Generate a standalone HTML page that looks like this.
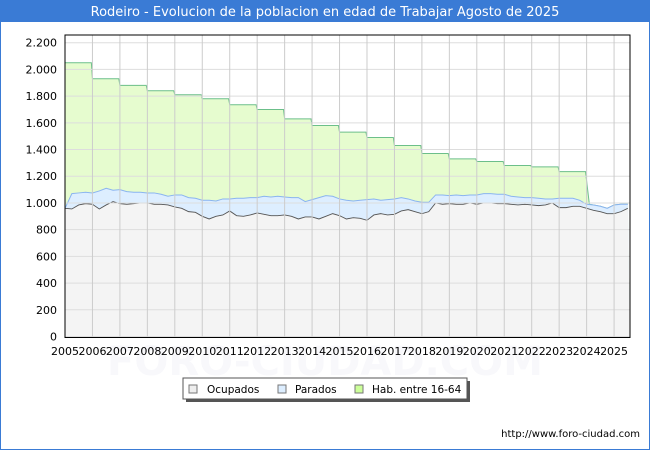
<!DOCTYPE html>
<html><head><meta charset="utf-8"><style>
body{margin:0;width:650px;height:450px;overflow:hidden;background:#fff;font-family:"DejaVu Sans","Liberation Sans",sans-serif}
</style></head><body>
<svg width="650" height="450" xmlns="http://www.w3.org/2000/svg">
<rect x="0.5" y="0.5" width="649" height="449" fill="#fff" stroke="#3a7bd5"/>
<rect x="0" y="0" width="650" height="22" fill="#3a7bd5"/>
<text x="325" y="16" text-anchor="middle" fill="#fff" font-size="13">Rodeiro - Evolucion de la poblacion en edad de Trabajar Agosto de 2025</text>
<text x="325" y="375" text-anchor="middle" fill="#f8f8fb" font-size="40" font-weight="bold">FORO-CIUDAD.COM</text>
<g id="plot"></g>
<g>
<rect x="186" y="381" width="284" height="21" fill="#555"/>
<rect x="183" y="378" width="284" height="21" fill="#fff" stroke="#555"/>
<rect x="189" y="385" width="8" height="8" fill="#eee" stroke="#777"/>
<text x="207" y="393" font-size="10.5">Ocupados</text>
<rect x="278" y="385" width="8" height="8" fill="#ddeeff" stroke="#777"/>
<text x="295" y="393" font-size="10.5">Parados</text>
<rect x="355" y="385" width="8" height="8" fill="#ccff99" stroke="#777"/>
<text x="372" y="393" font-size="10.5">Hab. entre 16-64</text>
</g>
<text x="640" y="437" text-anchor="end" font-size="10">http://www.foro-ciudad.com</text>
</svg>
<script>
const yearTicks=[2005,2006,2007,2008,2009,2010,2011,2012,2013,2014,2015,2016,2017,2018,2019,2020,2021,2022,2023,2024,2025];
const yTicks=[0,200,400,600,800,1000,1200,1400,1600,1800,2000,2200];
const habYears=[2005,2006,2007,2008,2009,2010,2011,2012,2013,2014,2015,2016,2017,2018,2019,2020,2021,2022,2023];
const habValues=[2050,1930,1880,1840,1810,1780,1735,1700,1630,1580,1530,1490,1430,1370,1330,1310,1280,1270,1235];
const parados=[960,1070,1075,1080,1075,1090,1110,1095,1100,1085,1080,1080,1075,1075,1065,1050,1060,1060,1040,1035,1020,1020,1015,1030,1030,1035,1035,1040,1040,1050,1045,1050,1045,1040,1040,1010,1025,1040,1055,1050,1030,1020,1015,1020,1025,1030,1020,1025,1030,1040,1030,1015,1005,1005,1060,1060,1055,1060,1055,1060,1060,1070,1070,1065,1065,1050,1045,1040,1040,1035,1030,1030,1035,1035,1035,1020,990,985,975,960,985,990,990];
const ocupados=[960,955,985,995,990,955,985,1010,995,990,995,1000,1000,990,990,985,970,960,935,930,900,880,900,910,940,905,900,910,925,915,905,905,910,900,880,895,895,880,900,920,905,880,890,885,870,910,920,910,915,940,950,935,920,935,1000,990,995,990,990,1000,990,1000,1000,995,995,990,985,990,985,980,985,1000,965,965,975,975,960,945,935,920,920,935,960];
const X0=65,X1=630,Y0=336.5,YT=42.7,startYear=2005,endYear=2025.58;
const xs=t=>X0+(t-startYear)*(X1-X0)/(endYear-startYear);
const ys=v=>Y0-v*(Y0-YT)/2200;
const tq=i=>Math.min(startYear+i*0.25,endYear);
const NS="http://www.w3.org/2000/svg";
const g=document.getElementById('plot');
function mk(tag,attrs,parent){const e=document.createElementNS(NS,tag);for(const k in attrs)e.setAttribute(k,attrs[k]);(parent||g).appendChild(e);return e;}
mk('rect',{x:X0,y:35,width:X1-X0,height:Y0-35,fill:'#fff'});
let habPts=[];
habYears.forEach((y,i)=>{const v=habValues[i];const nx=i<habYears.length-1?habYears[i+1]:2024;habPts.push([xs(y),ys(v)]);habPts.push([xs(nx-0.04),ys(v)]);});
habPts.push([xs(2024.1),ys(parados[76])]);
const lastIdx=parados.length-1;
for(let i=77;i<=lastIdx;i++)habPts.push([xs(tq(i)),ys(parados[i])]);
const habD='M'+habPts.map(p=>p.join(',')).join('L');
const hab=mk('path',{d:habD+`L${X1},${Y0}L${X0},${Y0}Z`,fill:'#e6fccf'});


const habL=mk('path',{d:habD,fill:'none',stroke:'#6cbf8a','stroke-width':1});


const pD='M'+parados.map((v,i)=>xs(tq(i))+','+ys(v)).join('L');
const pa=mk('path',{d:pD+`L${X1},${Y0}L${X0},${Y0}Z`,fill:'#ddeeff'});


const pl=mk('path',{d:pD,fill:'none',stroke:'#8ab4f0','stroke-width':1});


const oD='M'+ocupados.map((v,i)=>xs(tq(i))+','+ys(v)).join('L');
const oa=mk('path',{d:oD+`L${X1},${Y0}L${X0},${Y0}Z`,fill:'#f4f4f4'});


const ol=mk('path',{d:oD,fill:'none',stroke:'#555','stroke-width':0.9});


yTicks.forEach(v=>{
 const l=mk('line',{x1:X0,x2:X1,y1:ys(v),y2:ys(v),stroke:'#ddd','stroke-width':1});
 
 
 const t=mk('text',{x:X0-8,y:ys(v)+4,'text-anchor':'end','font-size':11});
 
 
 t.textContent=v.toLocaleString('de-DE');
});
yearTicks.forEach(y=>{
 const l=mk('line',{x1:xs(y),x2:xs(y),y1:35,y2:Y0,stroke:'#ccc','stroke-width':1});
 
 
 const t=mk('text',{x:xs(y),y:355,'text-anchor':'middle','font-size':11});
 
 
 t.textContent=y;
});
const ax=mk('rect',{x:X0,y:35,width:X1-X0,height:Y0-35+1,fill:'none',stroke:'#000','stroke-width':1});


</script>
</body></html>
